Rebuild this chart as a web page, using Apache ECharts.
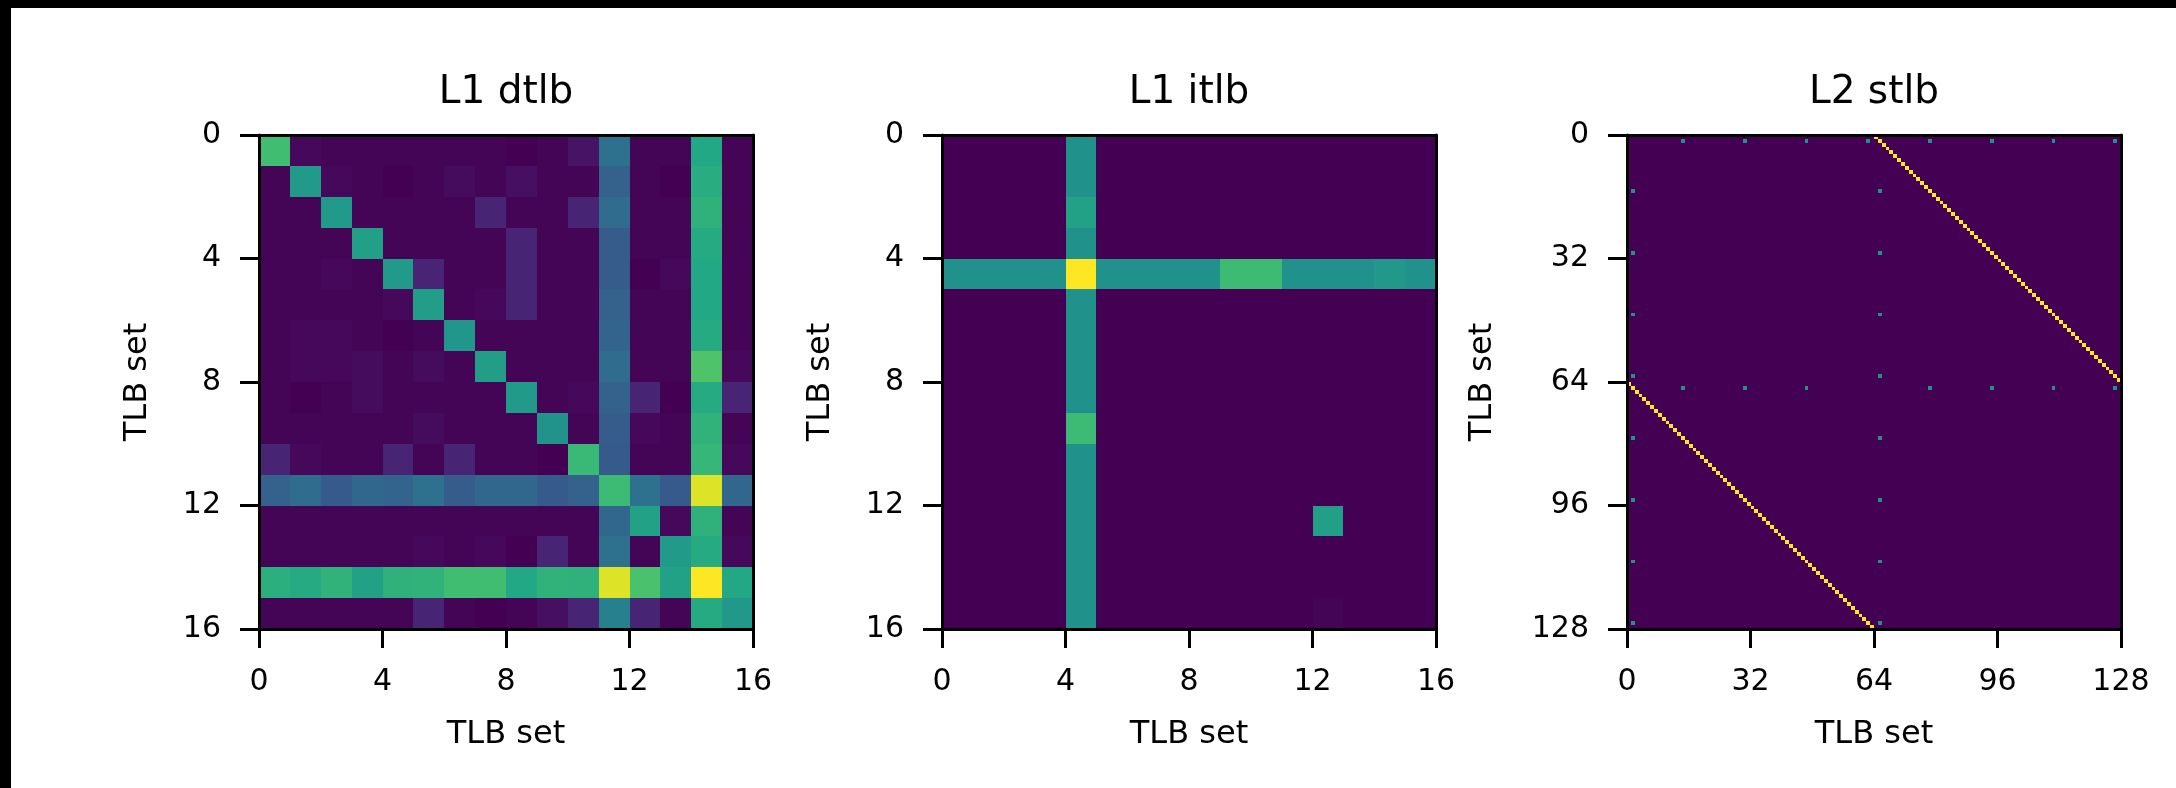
<!DOCTYPE html>
<html><head><meta charset="utf-8">
<script src="https://cdn.jsdelivr.net/npm/echarts@6/dist/echarts.min.js"></script>
<style>
html,body{margin:0;padding:0;background:#fff;}
#chart{position:absolute;left:0;top:0;width:2176px;height:788px;}
.bar-top{position:absolute;left:0;top:0;width:2176px;height:8px;background:#000;z-index:2}
.bar-left{position:absolute;left:0;top:0;width:11px;height:788px;background:#000;z-index:2}
</style></head><body>
<div id="chart"></div><div class="bar-top"></div><div class="bar-left"></div>
<script>
// ---------- data ----------
const titles = ['L1 dtlb', 'L1 itlb', 'L2 stlb'];
const axisName = 'TLB set';
const setCounts = [16, 16, 128];
const tickSteps = [4, 4, 32];

// L1 dtlb : rows = y (top to bottom), cols = x, relative intensity 0..1
const dtlb = [
  [0.69,0.02,0.01,0.01,0.01,0.01,0.01,0.01,0.00,0.01,0.05,0.37,0.01,0.01,0.60,0.01],
  [0.01,0.54,0.02,0.01,0.00,0.01,0.03,0.01,0.04,0.01,0.01,0.31,0.01,0.00,0.62,0.01],
  [0.01,0.01,0.54,0.01,0.01,0.01,0.01,0.10,0.01,0.01,0.10,0.35,0.01,0.01,0.64,0.01],
  [0.01,0.01,0.01,0.56,0.01,0.01,0.01,0.01,0.10,0.01,0.01,0.29,0.01,0.01,0.61,0.01],
  [0.01,0.01,0.02,0.01,0.54,0.10,0.01,0.01,0.10,0.01,0.01,0.29,0.00,0.02,0.60,0.01],
  [0.01,0.01,0.01,0.01,0.02,0.55,0.01,0.02,0.10,0.01,0.01,0.31,0.01,0.01,0.60,0.01],
  [0.01,0.02,0.02,0.01,0.00,0.01,0.52,0.01,0.01,0.01,0.01,0.32,0.01,0.01,0.61,0.01],
  [0.01,0.02,0.02,0.03,0.01,0.03,0.01,0.55,0.01,0.01,0.01,0.35,0.01,0.01,0.72,0.02],
  [0.01,0.00,0.01,0.03,0.01,0.01,0.01,0.01,0.54,0.01,0.02,0.31,0.10,0.00,0.61,0.10],
  [0.01,0.01,0.01,0.01,0.01,0.03,0.01,0.01,0.01,0.51,0.01,0.29,0.02,0.01,0.645,0.01],
  [0.10,0.02,0.01,0.01,0.10,0.01,0.10,0.01,0.01,0.00,0.67,0.28,0.01,0.01,0.66,0.02],
  [0.31,0.35,0.28,0.33,0.32,0.37,0.29,0.33,0.33,0.28,0.31,0.68,0.37,0.28,0.95,0.33],
  [0.01,0.01,0.01,0.01,0.01,0.01,0.01,0.01,0.01,0.01,0.01,0.33,0.57,0.02,0.64,0.01],
  [0.01,0.01,0.01,0.01,0.01,0.02,0.01,0.02,0.00,0.10,0.01,0.37,0.01,0.54,0.61,0.02],
  [0.63,0.61,0.645,0.57,0.64,0.645,0.69,0.69,0.60,0.645,0.64,0.95,0.71,0.57,1.00,0.60],
  [0.01,0.01,0.01,0.01,0.01,0.10,0.01,0.00,0.01,0.04,0.10,0.43,0.10,0.01,0.61,0.53]
];

// L1 itlb
const itlb = [
  [0,0,0,0,0.50,0,0,0,0,0,0,0,0,0,0,0],
  [0,0,0,0,0.50,0,0,0,0,0,0,0,0,0,0,0],
  [0,0,0,0,0.57,0,0,0,0,0,0,0,0,0,0,0],
  [0,0,0,0,0.50,0,0,0,0,0,0,0,0,0,0,0],
  [0.50,0.50,0.50,0.50,1.00,0.50,0.50,0.50,0.50,0.68,0.68,0.50,0.50,0.50,0.53,0.50],
  [0,0,0,0,0.50,0,0,0,0,0,0,0,0,0,0,0],
  [0,0,0,0,0.50,0,0,0,0,0,0,0,0,0,0,0],
  [0,0,0,0,0.50,0,0,0,0,0,0,0,0,0,0,0],
  [0,0,0,0,0.50,0,0,0,0,0,0,0,0,0,0,0],
  [0,0,0,0,0.68,0,0,0,0,0,0,0,0,0,0,0],
  [0,0,0,0,0.50,0,0,0,0,0,0,0,0,0,0,0],
  [0,0,0,0,0.50,0,0,0,0,0,0,0,0,0,0,0],
  [0,0,0,0,0.50,0,0,0,0,0,0,0,0.56,0,0,0],
  [0,0,0,0,0.50,0,0,0,0,0,0,0,0,0,0,0],
  [0,0,0,0,0.50,0,0,0,0,0,0,0,0,0,0,0],
  [0,0,0,0,0.50,0,0,0,0,0,0,0,0.01,0,0,0]
];

// L2 stlb : column of the bright cell in each row 0..127
const stlbHotCol = [
  64,65,66,67,68,69,70,71,72,73,74,75,76,77,78,79,
  80,81,82,83,84,85,86,87,88,89,90,91,92,93,94,95,
  96,97,98,99,100,101,102,103,104,105,106,107,108,109,110,111,
  112,113,114,115,116,117,118,119,120,121,122,123,124,125,126,127,
  0,1,2,3,4,5,6,7,8,9,10,11,12,13,14,15,
  16,17,18,19,20,21,22,23,24,25,26,27,28,29,30,31,
  32,33,34,35,36,37,38,39,40,41,42,43,44,45,46,47,
  48,49,50,51,52,53,54,55,56,57,58,59,60,61,62,63
];
const stlbHotValue = 1.0;
// faint teal dots: [row, col, value]
const stlbDots = [
  [1,14,0.5],[1,30,0.5],[1,46,0.5],[1,62,0.5],[1,78,0.5],[1,94,0.5],[1,110,0.5],[1,126,0.5],
  [14,1,0.5],[30,1,0.5],[46,1,0.5],[62,1,0.5],[78,1,0.5],[94,1,0.5],[110,1,0.5],[126,1,0.5],
  [65,14,0.5],[65,30,0.5],[65,46,0.5],[65,78,0.5],[65,94,0.5],[65,110,0.5],[65,126,0.5],
  [14,65,0.5],[30,65,0.5],[46,65,0.5],[62,65,0.5],[78,65,0.5],[94,65,0.5],[110,65,0.5],[126,65,0.5]
];

const viridis = ['#440154','#482475','#414487','#355f8d','#2a788e','#21918c','#22a884','#44bf70','#7ad151','#bddf26','#fde725'];

// ---------- build ----------
function matrixToItems(m) {
  const out = [];
  for (let r = 0; r < m.length; r++) for (let c = 0; c < m[r].length; c++) out.push([c, r, m[r][c]]);
  return out;
}
const stlb = [];
for (let r = 0; r < 128; r++) { const row = new Array(128).fill(0); row[stlbHotCol[r]] = stlbHotValue; stlb.push(row); }
stlbDots.forEach(d => { if (stlb[d[0]][d[1]] < d[2]) stlb[d[0]][d[1]] = d[2]; });
const matrices = [dtlb, itlb, stlb];

const FONT = 'DejaVu Sans';
const gridLefts = [259, 942, 1627];
const gridTop = 135, gridSize = 494;
const yNameGaps = [105, 105, 128];

const option = { animation: false, title: [], grid: [], xAxis: [], yAxis: [], series: [], visualMap: [] };

for (let i = 0; i < 3; i++) {
  const n = setCounts[i];
  option.title.push({
    text: titles[i], left: gridLefts[i] + gridSize / 2, top: 73, textAlign: 'center', padding: 0,
    textStyle: { fontFamily: FONT, fontSize: 39, fontWeight: 'normal', color: '#000' }
  });
  option.grid.push({ left: gridLefts[i], top: gridTop, width: gridSize, height: gridSize, containLabel: false });
  const line = { show: true, onZero: false, lineStyle: { color: '#000', width: 3 } };
  const tick = { show: true, length: 19, lineStyle: { color: '#000', width: 3 } };
  const lbl = { show: true, fontFamily: FONT, fontSize: 30, color: '#000', margin: 38 };
  const nameStyle = { fontFamily: FONT, fontSize: 32, color: '#000' };
  option.xAxis.push({
    gridIndex: i, type: 'value', min: 0, max: n, interval: tickSteps[i], position: 'bottom', z: 10,
    axisLine: line, axisTick: tick, axisLabel: lbl, splitLine: { show: false },
    name: axisName, nameLocation: 'middle', nameGap: 90, nameTextStyle: nameStyle
  });
  option.xAxis.push({
    gridIndex: i, type: 'value', min: 0, max: n, position: 'top', z: 10,
    axisLine: line, axisTick: { show: false }, axisLabel: { show: false }, splitLine: { show: false }
  });
  option.yAxis.push({
    gridIndex: i, type: 'value', min: 0, max: n, interval: tickSteps[i], inverse: true, position: 'left', z: 10,
    axisLine: line, axisTick: tick, axisLabel: lbl, splitLine: { show: false },
    name: axisName, nameLocation: 'middle', nameGap: yNameGaps[i], nameTextStyle: nameStyle
  });
  option.yAxis.push({
    gridIndex: i, type: 'value', min: 0, max: n, inverse: true, position: 'right', z: 10,
    axisLine: line, axisTick: { show: false }, axisLabel: { show: false }, splitLine: { show: false }
  });
  option.series.push({
    type: 'custom', xAxisIndex: 2 * i, yAxisIndex: 2 * i, z: 2,
    encode: { x: 0, y: 1 },
    data: matrixToItems(matrices[i]),
    renderItem: function (params, api) {
      const x = api.value(0), y = api.value(1);
      const p0 = api.coord([x, y]);
      const p1 = api.coord([x + 1, y + 1]);
      const x0 = Math.round(Math.min(p0[0], p1[0])), x1 = Math.round(Math.max(p0[0], p1[0]));
      const y0 = Math.round(Math.min(p0[1], p1[1])), y1 = Math.round(Math.max(p0[1], p1[1]));
      return {
        type: 'rect',
        shape: { x: x0, y: y0, width: x1 - x0, height: y1 - y0 },
        style: { fill: api.visual('color'), stroke: null }
      };
    }
  });
  option.visualMap.push({
    type: 'continuous', show: false, min: 0, max: 1, dimension: 2, seriesIndex: i,
    inRange: { color: viridis }
  });
}

const chart = echarts.init(document.getElementById('chart'), null, { renderer: 'canvas' });
chart.setOption(option);
</script>
</body></html>
